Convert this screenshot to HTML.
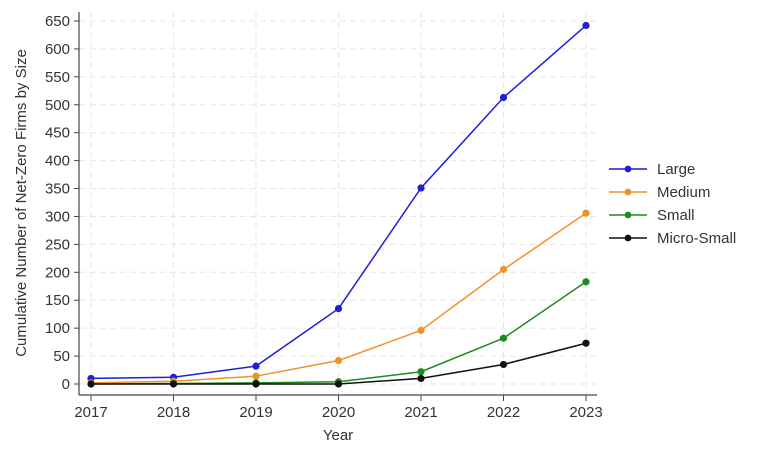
<!DOCTYPE html>
<html><head><meta charset="utf-8"><style>
body{margin:0;background:#fff;}
svg{display:block;font-family:"Liberation Sans",Arial,sans-serif;}
</style></head><body>
<svg id="chart" width="768" height="454" viewBox="0 0 768 454" xmlns="http://www.w3.org/2000/svg">
<g id="grid"></g>
<g id="axes"></g>
<g id="series"></g>
<g id="legend"></g>
<text transform="translate(26,203) rotate(-90)" text-anchor="middle" font-size="15" fill="#333">Cumulative Number of Net-Zero Firms by Size</text>
<text x="338" y="440" text-anchor="middle" font-size="15" fill="#333">Year</text>
</svg>
<script>
const years = [2017, 2018, 2019, 2020, 2021, 2022, 2023];
const yTicks = [0, 50, 100, 150, 200, 250, 300, 350, 400, 450, 500, 550, 600, 650];
const seriesNames = ["Large", "Medium", "Small", "Micro-Small"];
const seriesColors = ["#1f1fd6", "#f0922a", "#1f8a1f", "#111111"];
const large = [10, 12, 32, 135, 351, 513, 642];
const medium = [2, 5, 14, 42, 96, 205, 306];
const small = [0, 1, 2, 4, 22, 82, 183];
const micro = [0, 0, 0, 0, 10, 35, 73];
const allSeries = [large, medium, small, micro];

const NS = "http://www.w3.org/2000/svg";
function xs(i){ return 91 + i * (586 - 91) / (years.length - 1); }
function ys(v){ return 384 - v * (384 - 21) / 650; }
function mk(tag, attrs, parent){ const e = document.createElementNS(NS, tag); for (const k in attrs) e.setAttribute(k, attrs[k]); parent.appendChild(e); return e; }
const grid = document.getElementById("grid"), axes = document.getElementById("axes"), ser = document.getElementById("series"), leg = document.getElementById("legend");

yTicks.forEach(t => {
  const g = mk("line", {x1: 80, x2: 596, y1: ys(t), y2: ys(t), stroke: "#e6e6e6", "stroke-dasharray": "6,4"}, grid);
  
  
  const tk = mk("line", {x1: 74, x2: 79, y1: ys(t), y2: ys(t), stroke: "#444"}, axes);
  
  
  const lb = mk("text", {x: 70, y: ys(t) + 5, "text-anchor": "end", "font-size": "15", fill: "#333"}, axes);
  lb.textContent = t;
  
  
});
years.forEach((y, i) => {
  const g = mk("line", {x1: xs(i), x2: xs(i), y1: 12, y2: 394, stroke: "#e6e6e6", "stroke-dasharray": "6,4"}, grid);
  
  
  const tk = mk("line", {x1: xs(i), x2: xs(i), y1: 395, y2: 401, stroke: "#444"}, axes);
  
  
  const lb = mk("text", {x: xs(i), y: 417, "text-anchor": "middle", "font-size": "15", fill: "#333"}, axes);
  lb.textContent = y;
  
  
});
const ya = mk("line", {x1: 79, x2: 79, y1: 12, y2: 395, stroke: "#444", "stroke-width": 1.2}, axes);


const xa = mk("line", {x1: 79, x2: 597, y1: 395, y2: 395, stroke: "#444", "stroke-width": 1.2}, axes);



allSeries.forEach((vals, s) => {
  const pl = mk("polyline", {points: vals.map((v, i) => xs(i) + "," + ys(v)).join(" "), fill: "none", stroke: seriesColors[s], "stroke-width": 1.5}, ser);
  
  
  vals.forEach((v, i) => {
    const c = mk("circle", {cx: xs(i), cy: ys(v), r: 3.6, fill: seriesColors[s]}, ser);
    
    
  });
  const ly = 169 + s * 23;
  const ll = mk("line", {x1: 609, x2: 647, y1: ly, y2: ly, stroke: seriesColors[s], "stroke-width": 1.5}, leg);
  
  
  const lc = mk("circle", {cx: 628, cy: ly, r: 3.4, fill: seriesColors[s]}, leg);
  
  
  const lt = mk("text", {x: 657, y: ly + 5, "font-size": "15", fill: "#333"}, leg);
  lt.textContent = seriesNames[s];
  
  
});
</script>
</body></html>
